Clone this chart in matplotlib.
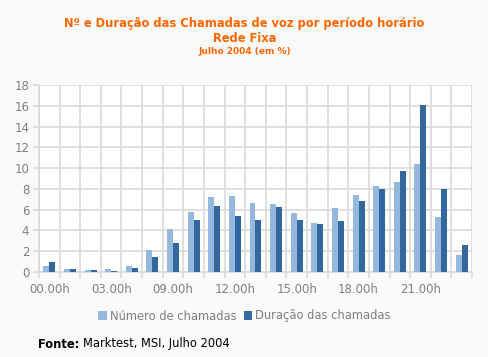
import numpy as np
import matplotlib.pyplot as plt
from matplotlib.ticker import FixedLocator, NullFormatter

# values (21 hourly groups)
hour_labels = ["00.00h", "", "", "03.00h", "", "", "09.00h", "", "", "12.00h", "", "",
               "15.00h", "", "", "18.00h", "", "", "21.00h", "", ""]
n_calls = [0.58, 0.29, 0.19, 0.29, 0.58, 2.12, 4.15, 5.79, 7.23, 7.33, 6.66,
           6.56, 5.69, 4.73, 6.17, 7.43, 8.3, 8.68, 10.42, 5.3, 1.64]
call_duration = [0.96, 0.29, 0.19, 0.1, 0.39, 1.45, 2.8, 5.02, 6.37, 5.4, 5.02,
                 6.27, 5.02, 4.63, 4.92, 6.85, 8.0, 9.74, 16.1, 8.0, 2.6]
series_names = ["Número de chamadas", "Duração das chamadas"]

BG = "#fafafa"
GRID = "#d9d9d9"
LIGHT = "#95b8dd"
DARK = "#33689e"
TXT = "#7f7f7f"
ORANGE = "#ff6600"

fig = plt.figure(figsize=(4.89, 3.57), dpi=100, facecolor=BG)
ax = fig.add_axes([39 / 489, 1 - 272 / 357, (472 - 39) / 489, (272 - 85) / 357])
ax.set_facecolor("white")

x = np.arange(len(n_calls))
w = 0.29
ax.bar(x - w / 2, n_calls, w, color=LIGHT, label=series_names[0], zorder=3)
ax.bar(x + w / 2, call_duration, w, color=DARK, label=series_names[1], zorder=3)

ax.set_xlim(-0.5, len(n_calls) - 0.5)
ax.set_ylim(0, 18)
ax.set_yticks(range(0, 19, 2))

# vertical grid at group boundaries, labels at group centres
ax.xaxis.set_major_locator(FixedLocator(np.arange(-0.5, len(n_calls), 1.0)))
ax.xaxis.set_major_formatter(NullFormatter())
ax.xaxis.set_minor_locator(FixedLocator(x))
ax.set_xticklabels(hour_labels, minor=True)
ax.tick_params(axis="x", which="minor", length=0, pad=8, labelsize=8.5, labelcolor=TXT)
ax.tick_params(axis="x", which="major", length=4, color=GRID, width=1.2)
ax.tick_params(axis="y", length=4, color=GRID, width=1.2, labelsize=8.5, labelcolor=TXT, pad=3)

ax.grid(True, which="major", color=GRID, linewidth=1.2, zorder=0)
for s in ["top", "right"]:
    ax.spines[s].set_visible(False)
for s in ["left", "bottom"]:
    ax.spines[s].set_color(GRID)
    ax.spines[s].set_linewidth(1.2)

fig.text(0.5, 1 - 24 / 357, "Nº e Duração das Chamadas de voz por período horário",
         ha="center", va="center", color=ORANGE, fontsize=8.3, fontweight="bold")
fig.text(0.5, 1 - 38 / 357, "Rede Fixa", ha="center", va="center",
         color=ORANGE, fontsize=8.3, fontweight="bold")
fig.text(0.5, 1 - 51 / 357, "Julho 2004 (em %)", ha="center", va="center",
         color=ORANGE, fontsize=6.5, fontweight="bold")

fig.legend(loc="center", bbox_to_anchor=(0.5, 1 - 316 / 357), ncol=2, frameon=False,
           fontsize=8.3, labelcolor=TXT, handlelength=0.7, handleheight=0.7,
           handletextpad=0.3, columnspacing=0.6)

src = fig.text(38 / 489, 1 - 344 / 357, "Fonte:", ha="left", va="center",
               fontsize=8.3, fontweight="bold", color="black")
fig.canvas.draw()
bb = src.get_window_extent()
fig.text((bb.x1 + 4) / fig.bbox.width, 1 - 344 / 357, "Marktest, MSI, Julho 2004",
         ha="left", va="center", fontsize=8.3, color="black")

fig.savefig("out.png", dpi=100, facecolor=BG)
